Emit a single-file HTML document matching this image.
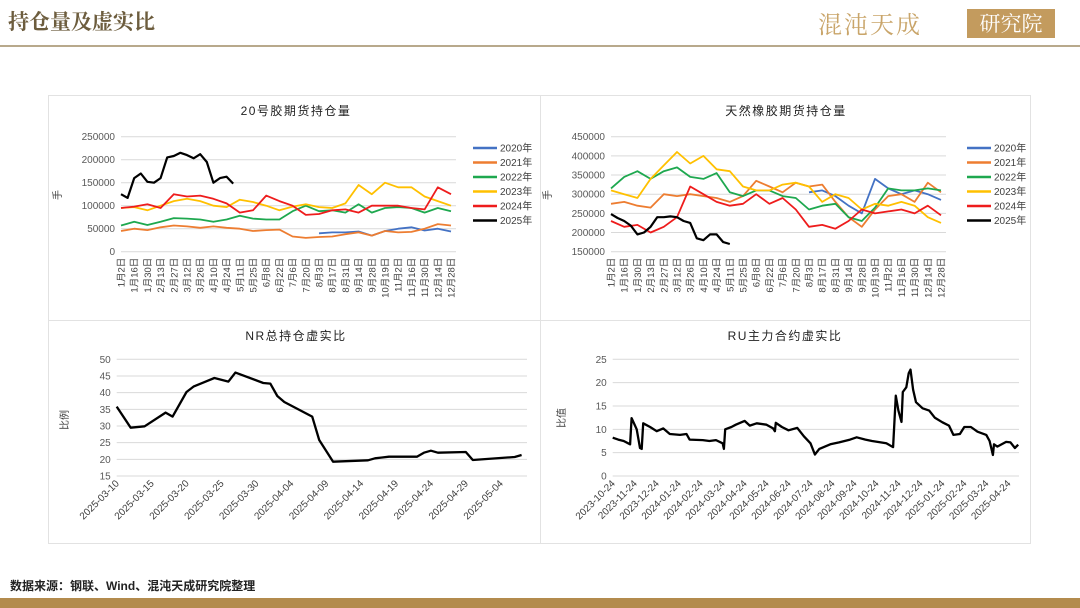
<!DOCTYPE html>
<html><head><meta charset="utf-8"><style>
html,body{margin:0;padding:0;background:#fff;}
svg{display:block;font-family:"Liberation Sans","Noto Sans CJK SC",sans-serif;}
</style></head><body>
<svg id="root" width="1080" height="608" viewBox="0 0 1080 608">
<text x="8" y="29" font-size="21" font-weight="bold" fill="#6d5d3e" font-family="Noto Serif CJK SC, Noto Sans CJK SC, sans-serif">持仓量及虚实比</text>
<text x="818" y="33" font-size="24" fill="#c9a56a" letter-spacing="2" font-family="Noto Serif CJK SC, Noto Sans CJK SC, sans-serif">混沌天成</text>
<rect x="967" y="9" width="88" height="29" fill="#c39b5e"/>
<text x="1011" y="31" font-size="21" fill="#fff" text-anchor="middle" font-family="Noto Serif CJK SC, Noto Sans CJK SC, sans-serif">研究院</text>
<rect x="0" y="45" width="1080" height="2" fill="#b8a98c"/>
<rect x="48.5" y="95.5" width="982" height="448" fill="none" stroke="#e2e2e2"/>
<line x1="540.5" y1="95" x2="540.5" y2="543" stroke="#e2e2e2"/>
<line x1="48" y1="320.5" x2="1030" y2="320.5" stroke="#e2e2e2"/>
<text x="10" y="590" font-size="12" font-weight="bold" fill="#222">数据来源：钢联、Wind、混沌天成研究院整理</text>
<rect x="0" y="598" width="1080" height="10" fill="#b38b4d"/>
<g id="charts"></g>
</svg>
<script>
// ---- data ----
const seasonCats = ["1月2日","1月16日","1月30日","2月13日","2月27日","3月12日","3月26日","4月10日","4月24日","5月11日","5月25日","6月8日","6月22日","7月6日","7月20日","8月3日","8月17日","8月31日","9月14日","9月28日","10月19日","11月2日","11月16日","11月30日","12月14日","12月28日"];
const seasonYears = ["2020年","2021年","2022年","2023年","2024年","2025年"];
const nr2020 = [null,null,null,null,null,null,null,null,null,null,null,null,null,null,null,40000,42000,42000,44000,35000,45000,50000,53000,46000,50000,44000];
const nr2021 = [45000,50000,47000,53000,57000,55000,52000,55000,52000,50000,45000,47000,48000,33000,30000,32000,33000,38000,42000,35000,45000,42000,43000,50000,60000,57000];
const nr2022 = [57000,65000,58000,65000,73000,72000,70000,65000,70000,78000,72000,70000,70000,88000,100000,88000,90000,85000,103000,85000,95000,97000,95000,85000,95000,88000];
const nr2023 = [95000,97000,90000,100000,110000,115000,110000,100000,97000,113000,108000,100000,90000,98000,103000,97000,95000,105000,145000,125000,150000,140000,140000,120000,110000,100000];
const nr2024 = [95000,98000,103000,95000,125000,120000,122000,115000,105000,85000,90000,122000,110000,100000,80000,82000,90000,92000,85000,100000,100000,100000,95000,92000,140000,125000];
const nr2025 = [125000,117000,160000,170000,152000,150000,160000,205000,208000,215000,210000,203000,212000,195000,150000,160000,163000,148000];
const nrYTicks = [0,50000,100000,150000,200000,250000];
const ru2020 = [null,null,null,null,null,null,null,null,null,null,null,null,null,null,null,305000,310000,295000,270000,250000,340000,315000,300000,310000,300000,285000];
const ru2021 = [275000,280000,270000,265000,300000,295000,300000,295000,290000,280000,295000,335000,320000,305000,330000,320000,325000,280000,240000,215000,260000,295000,300000,280000,330000,305000];
const ru2022 = [315000,345000,360000,340000,360000,370000,345000,340000,355000,305000,295000,310000,310000,295000,290000,260000,270000,275000,240000,230000,265000,315000,310000,310000,315000,310000];
const ru2023 = [310000,300000,290000,340000,375000,410000,380000,400000,365000,360000,320000,310000,310000,325000,330000,320000,280000,300000,290000,260000,275000,270000,280000,270000,240000,225000];
const ru2024 = [230000,215000,220000,200000,215000,240000,320000,300000,280000,270000,275000,300000,275000,290000,260000,215000,220000,210000,230000,260000,250000,255000,260000,250000,270000,245000];
const ru2025 = [248000,238000,230000,218000,195000,200000,215000,240000,240000,242000,240000,230000,225000,185000,180000,195000,195000,175000,170000];
const ruYTicks = [150000,200000,250000,300000,350000,400000,450000];
const ratioDates = ["03-10","03-12","03-14","03-17","03-18","03-20","03-21","03-24","03-26","03-27","03-31","04-01","04-02","04-03","04-07","04-08","04-10","04-15","04-16","04-18","04-22","04-23","04-24","04-25","04-29","04-30","05-06","05-07"];
const ratioVals = [35.8,29.5,29.9,34.0,32.8,40.2,41.8,44.4,43.3,46.0,42.9,42.7,39.0,37.2,32.8,25.8,19.3,19.7,20.3,20.8,20.8,22.0,22.6,22.0,22.2,19.8,20.7,21.3];
const ratioTickDates = ["03-10","03-15","03-20","03-25","03-30","04-04","04-09","04-14","04-19","04-24","04-29","05-04"];
const ratioYTicks = [15,20,25,30,35,40,45,50];
const ruMonthLabels = ["2023-10-24","2023-11-24","2023-12-24","2024-01-24","2024-02-24","2024-03-24","2024-04-24","2024-05-24","2024-06-24","2024-07-24","2024-08-24","2024-09-24","2024-10-24","2024-11-24","2024-12-24","2025-01-24","2025-02-24","2025-03-24","2025-04-24"];
const ruRatioMonth = [0,0.25,0.5,0.79,0.86,1.09,1.24,1.32,1.39,1.7,2.0,2.3,2.6,3.06,3.36,3.5,4.1,4.4,4.7,5.0,5.06,5.12,5.4,5.6,6.0,6.24,6.55,7.0,7.3,7.38,7.42,7.7,8.0,8.4,8.7,9.0,9.2,9.4,9.9,10.3,10.8,11.1,11.5,11.8,12.45,12.76,12.88,13.0,13.14,13.2,13.36,13.47,13.55,13.67,13.8,14.1,14.4,14.65,15.0,15.3,15.5,15.8,16.0,16.3,16.6,17.0,17.15,17.3,17.35,17.5,17.9,18.1,18.3,18.45];
const ruRatioVals = [8.2,7.8,7.5,6.8,12.4,10.0,6.0,5.8,11.3,10.5,9.6,10.2,9.0,8.8,9.0,7.8,7.7,7.5,7.7,7.0,5.8,10.0,10.5,11.0,11.8,10.8,11.3,11.0,10.2,9.6,11.4,10.5,9.8,10.3,8.5,7.0,4.6,5.8,6.8,7.2,7.8,8.3,7.8,7.5,7.0,6.2,17.2,14.0,11.6,18.0,19.0,22.0,22.8,18.5,15.8,14.5,14.0,12.5,11.5,10.8,8.8,9.0,10.5,10.5,9.5,8.8,7.5,4.5,6.8,6.3,7.3,7.2,6.0,6.7];
const yearColors = ["#4472c4","#ed7d31","#1ea84f","#ffc000","#ee1c1c","#000000"];

const NS="http://www.w3.org/2000/svg";
const G=document.getElementById('charts');
function mk(tag,attrs,parent,txt){const e=document.createElementNS(NS,tag);for(const k in attrs)e.setAttribute(k,attrs[k]);if(txt!==undefined)e.textContent=txt;(parent||G).appendChild(e);return e;}
function linear(d0,d1,r0,r1){return v=>r0+(v-d0)/(d1-d0)*(r1-r0);}
function pathD(xs,ys){let d="",pen=false;for(let i=0;i<xs.length;i++){if(ys[i]==null){pen=false;continue;}d+=(pen?"L":"M")+xs[i].toFixed(1)+","+ys[i].toFixed(1);pen=true;}return d;}

function yAxis(ticks,y,x0,x1,name,fmt){
  ticks.forEach(t=>{
    const l=mk('line',{x1:x0,x2:x1,y1:y(t),y2:y(t),stroke:'#d9d9d9','stroke-width':1});
    
    
    const tx=mk('text',{x:x0-6,y:y(t)+3.5,'font-size':10,fill:'#595959','text-anchor':'end'},null,fmt?fmt(t):String(t));
    
    
  });
}
function titleText(x,y,s,name){const t=mk('text',{x:x,y:y,'font-size':12,fill:'#222','text-anchor':'middle','letter-spacing':1.5},null,s);
  
  }
function vTitle(x,y,s,name){const t=mk('text',{x:x,y:y,'font-size':10,fill:'#404040','text-anchor':'middle',transform:`rotate(-90 ${x} ${y})`},null,s);
  
  }

function seasonal(opt){
  const x=linear(0,seasonCats.length-1,opt.x0,opt.x1);
  const y=linear(opt.ticks[0],opt.ticks[opt.ticks.length-1],opt.yb,opt.yt);
  titleText((opt.x0+opt.x1)/2+10,115,opt.title,opt.name+'-title');
  vTitle(opt.x0-60,195,'手',opt.name+'-y-axis-title');
  yAxis(opt.ticks,y,opt.x0,opt.x1+5,opt.name);
  seasonCats.forEach((c,i)=>{
    const xx=x(i)+3.5;
    const t=mk('text',{x:xx,y:opt.yb+6,'font-size':9.5,fill:'#404040','text-anchor':'end',transform:`rotate(-90 ${xx} ${opt.yb+6})`},null,c);
    
    
  });
  opt.series.forEach((s,k)=>{
    const step=(k===5)?0.5:1;
    const xs=s.map((v,i)=>x(i*step)), ys=s.map(v=>v==null?null:y(v));
    const p=mk('path',{d:pathD(xs,ys),fill:'none',stroke:yearColors[k],'stroke-width':k===5?2.2:1.8,'stroke-linejoin':'round'});
    
    
    const ly=148+k*14.5;
    const l=mk('line',{x1:opt.lx,x2:opt.lx+24,y1:ly,y2:ly,stroke:yearColors[k],'stroke-width':2.5});
    
    
    const lt=mk('text',{x:opt.lx+27,y:ly+3.5,'font-size':10,fill:'#404040'},null,seasonYears[k]);
    
    
  });
}
seasonal({name:'nr-oi',title:'20号胶期货持仓量',x0:121,x1:451,yt:136.7,yb:251.7,ticks:nrYTicks,lx:473,
  series:[nr2020,nr2021,nr2022,nr2023,nr2024,nr2025]});
seasonal({name:'ru-oi',title:'天然橡胶期货持仓量',x0:611,x1:941,yt:136.7,yb:251.7,ticks:ruYTicks,lx:967,
  series:[ru2020,ru2021,ru2022,ru2023,ru2024,ru2025]});

// NR ratio
(function(){
  const dayOf=s=>{const m=+s.slice(0,2),d=+s.slice(3);const base={3:0,4:31,5:61};return base[m]+d-10;};
  const x=linear(0,55,116.7,500.7), y=linear(15,50,476,359.3);
  titleText(296,340,'NR总持仓虚实比','nr-ratio-title');
  vTitle(68,420,'比例','nr-ratio-y-axis-title');
  yAxis(ratioYTicks,y,116.7,527,'nr-ratio');
  ratioTickDates.forEach(s=>{
    const xx=x(dayOf(s))+3;
    const t=mk('text',{x:xx,y:484,'font-size':10,fill:'#404040','text-anchor':'end',transform:`rotate(-45 ${xx} 484)`},null,'2025-'+s);
    
    
  });
  const p=mk('path',{d:pathD(ratioDates.map(s=>x(dayOf(s))),ratioVals.map(y)),fill:'none',stroke:'#000','stroke-width':2.3,'stroke-linejoin':'round'});
  
  
})();

// RU ratio
(function(){
  const x=linear(0,18,612.7,1008.3), y=linear(0,25,476,359.3);
  titleText(785,340,'RU主力合约虚实比','ru-ratio-title');
  vTitle(565,418,'比值','ru-ratio-y-axis-title');
  yAxis([0,5,10,15,20,25],y,612.7,1019,'ru-ratio');
  ruMonthLabels.forEach((s,i)=>{
    const xx=x(i)+3;
    const t=mk('text',{x:xx,y:484,'font-size':10,fill:'#404040','text-anchor':'end',transform:`rotate(-45 ${xx} 484)`},null,s);
    
    
  });
  const p=mk('path',{d:pathD(ruRatioMonth.map(x),ruRatioVals.map(y)),fill:'none',stroke:'#000','stroke-width':2.3,'stroke-linejoin':'round'});
  
  
})();
</script>
</body></html>
